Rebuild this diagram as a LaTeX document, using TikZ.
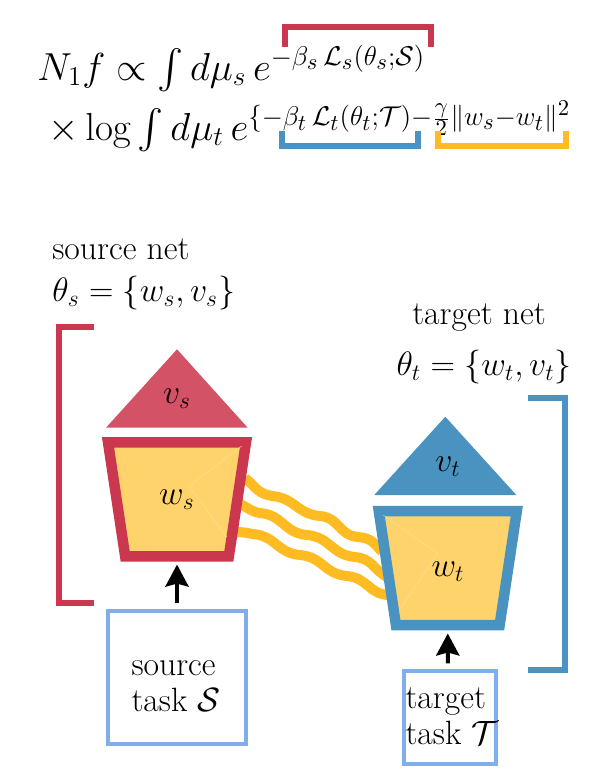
\documentclass[tikz,border=0pt]{standalone}
\usepackage{amsmath,amssymb}
\usepackage{xcolor}
\usetikzlibrary{arrows.meta,shapes.geometric}
\definecolor{redS}{HTML}{CB374F}
\definecolor{redV}{HTML}{D45265}
\definecolor{blueT}{HTML}{4A93C0}
\definecolor{gold}{HTML}{FFD36B}
\definecolor{amber}{HTML}{FFBB22}
\definecolor{sky}{HTML}{7FAEEA}
\tikzset{
  eqn/.style={anchor=base west, inner sep=0pt, font=\LARGE, scale=2.26},
  lab/.style={inner sep=0pt, font=\LARGE, scale=1.95},
  sym/.style={inner sep=0pt, font=\LARGE, scale=1.96},
  brk/.style={line width=6pt, miter limit=10},
  body/.style={trapezium, trapezium stretches=true, trapezium angle=80.6, shape border rotate=180,
    minimum width=138pt, minimum height=114pt, inner sep=2pt, fill=gold, line width=10.5pt, miter limit=10},
  wire/.style={draw=amber, line width=10pt, looseness=1.15},
  seam/.style={draw=gold!70!white, line width=0.4pt},
  taskbox/.style={draw=sky, line width=3.5pt, fill=white, inner sep=0pt},
  tasktext/.style={align=left, inner sep=0pt, font=\LARGE, scale=1.95},
  feed/.style={-{Stealth[length=22pt,width=23pt,inset=3pt]}, line width=4pt, shorten >=3pt, shorten <=6pt},
}
\begin{document}
\begin{tikzpicture}[x=1pt,y=-1pt]
  \useasboundingbox (0,0) rectangle (614,777);
  % the formula
  \node[eqn] (eqnone) at (37,80) {$N_1 f \propto \int d\mu_s\, e^{-\beta_s\,\mathcal{L}_s(\theta_s;\mathcal{S})}$};
  \node[eqn] (eqntwo) at (48,140) {$\times\log\int d\mu_t\, e^{\{-\beta_t\,\mathcal{L}_t(\theta_t;\mathcal{T})-\frac{\gamma}{2}\|w_s-w_t\|^2}$};
  \draw[brk,draw=redS] (285,46.7) -- (285,26.5) -- (431,26.5) -- (431,46.7);
  \draw[brk,draw=blueT] (282,131) -- (282,146.3) -- (417.5,146.3) -- (417.5,131);
  \draw[brk,draw=amber] (438,131) -- (438,146.3) -- (566,146.3) -- (566,131);
  % net labels
  \node[lab,anchor=base west] (srcname) at (52,259) {source net};
  \node[sym,anchor=base west] (srctheta) at (52,301) {$\theta_s=\{w_s,v_s\}$};
  \node[lab,anchor=base] (tgtname) at (479,324) {target net};
  \node[sym,anchor=base] (tgttheta) at (484,375) {$\theta_t=\{w_t,v_t\}$};
  % outer brackets
  \draw[brk,draw=redS] (94,326.5) -- (58.5,326.5) -- (58.5,602.5) -- (94,602.5);
  \draw[brk,draw=blueT] (528,397.5) -- (565,397.5) -- (565,670) -- (528,670);
  % coupling between the two nets
  \draw[wire] (245,478) to[out=-40,in=170] (272,496) to[out=-5,in=175] (320,516) to[out=-5,in=175] (358,537) to[out=-5,in=130] (382,552);
  \draw[wire] (240,504) to[out=-25,in=170] (260,513) to[out=-5,in=175] (307,535) to[out=-5,in=175] (355,557) to[out=-5,in=150] (387,577);
  \draw[wire] (236,532) to[out=0,in=170] (253,534) to[out=-5,in=175] (300,555) to[out=-5,in=175] (347,576) to[out=-5,in=180] (390,595);
  % source net
  \fill[redV] (106,427.7) -- (247.7,427.7) -- (177,349.3) -- cycle;
  \node[sym] (vs) at (177,399) {$v_s$};
  \node[body,draw=redS] (ws) at (177,499.3) {\phantom{\rule{1pt}{1pt}}};
  \draw[seam] (241.7,446) -- (189,486) -- (226.7,537);
  \node[sym] (wslab) at (177,500) {$w_s$};
  % target net
  \fill[blueT] (374.3,495) -- (516.3,495) -- (445.3,416.7) -- cycle;
  \node[sym] (vt) at (448,467) {$v_t$};
  \node[body,draw=blueT] (wt) at (447.8,568.2) {\phantom{\rule{1pt}{1pt}}};
  \draw[seam] (383.3,515) -- (437.5,553.5) -- (400,609);
  \node[sym] (wtlab) at (448,572) {$w_t$};
  % tasks
  \node[taskbox,minimum width=138pt,minimum height=133pt] (srctask) at (177,677.5) {};
  \node[tasktext] (srctext) at (176,686) {source\\[-3.5pt]task $\mathcal{S}$};
  \node[taskbox,minimum width=92pt,minimum height=93pt] (tgttask) at (450,717.5) {};
  \node[tasktext] (tgttext) at (452,716) {target\\[-3.5pt]task $\mathcal{T}$};
  \draw[feed] (srctask) -- (srctask|-ws.south);
  \draw[feed] (tgttask.north-|wt) -- (wt.south);
\end{tikzpicture}
\end{document}
